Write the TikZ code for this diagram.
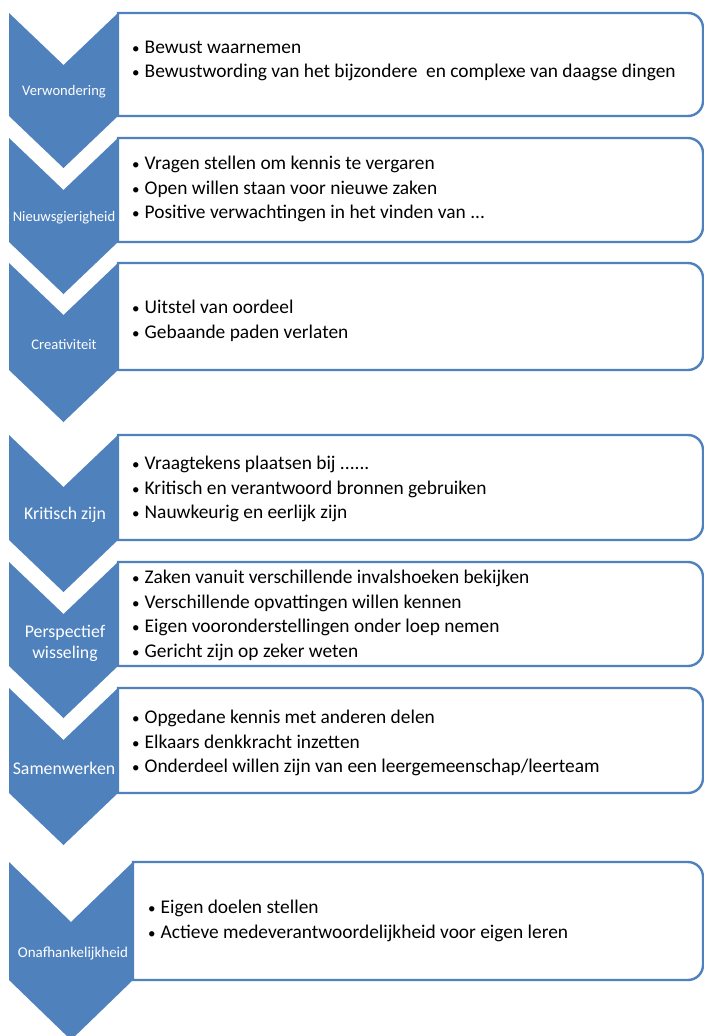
\documentclass[tikz,border=0pt]{standalone}
\usepackage{fontspec}
\setmainfont{Carlito}
\definecolor{chevblue}{HTML}{4F81BD}
\newcommand\itm{\makebox[12.5pt][l]{\fontsize{15}{15}\selectfont\textbullet}}

\begin{document}
\begin{tikzpicture}[x=1pt,y=1pt,
  chev/.style={fill=chevblue},
  itembox/.style={draw=chevblue,line width=2.4pt,fill=white},
  lab/.style={text=white,inner sep=0,align=center,font=\fontsize{17.8}{21}\selectfont},
  smalllab/.style={lab,font=\fontsize{14.6}{17}\selectfont},
  items/.style={anchor=west,inner sep=0,align=left,font=\fontsize{19.4}{24.5}\selectfont}]
\clip (0,0) rectangle (704,-1036);
\foreach \i/\t/\b/\r/\d in {1/13/116/118/52, 2/138/242/118/52, 3/263/370/118/52,
  4/435/540/118/52, 5/562/666/118/52, 6/688/793/118/52, 7/862/980/133/60} {
 \fill[chev] (9,-\t) -- ({(9+\r)/2},{-\t-\d}) -- (\r,-\t) -- (\r,-\b)
   -- ({(9+\r)/2},{-\b-\d}) -- (9,-\b) -- cycle;
 \draw[itembox] (\r,-\t) -- (688,-\t) arc[start angle=90,end angle=0,radius=15]
   -- (703,{-\b+15}) arc[start angle=0,end angle=-90,radius=15] -- (\r,-\b) -- cycle;
}
% chevron labels
\node[smalllab] (lab1) at (64,-92) {Verwondering};
\node[smalllab] (lab2) at (64,-218) {Nieuwsgierigheid};
\node[smalllab] (lab3) at (64,-345) {Creativiteit};
\node[lab] (lab4) at (65,-515) {Kritisch zijn};
\node[lab] (lab5) at (65,-643) {Perspectief\\wisseling};
\node[lab] (lab6) at (64,-768) {Samenwerken};
\node[smalllab,font=\fontsize{15}{18}\selectfont] (lab7) at (73,-953) {Onafhankelijkheid};
% box texts
\node[items] (txt1) at (132,-61) {\itm Bewust waarnemen\\
  \itm Bewustwording van het bijzondere~ en complexe van daagse dingen};
\node[items] (txt2) at (132,-189) {\itm Vragen stellen om kennis te vergaren\\
  \itm Open willen staan voor nieuwe zaken\\
  \itm Positive verwachtingen in het vinden van ...};
\node[items] (txt3) at (132,-321) {\itm Uitstel van oordeel\\
  \itm Gebaande paden verlaten};
\node[items] (txt4) at (132,-489) {\itm Vraagtekens plaatsen bij ......\\
  \itm Kritisch en verantwoord bronnen gebruiken\\
  \itm Nauwkeurig en eerlijk zijn};
\node[items] (txt5) at (132,-615.5) {\itm Zaken vanuit verschillende invalshoeken bekijken\\
  \itm Verschillende opvattingen willen kennen\\
  \itm Eigen vooronderstellingen onder loep nemen\\
  \itm Gericht zijn op zeker weten};
\node[items] (txt6) at (132,-743) {\itm Opgedane kennis met anderen delen\\
  \itm Elkaars denkkracht inzetten\\
  \itm Onderdeel willen zijn van een leergemeenschap/leerteam};
\node[items] (txt7) at (148,-921) {\itm Eigen doelen stellen\\
  \itm Actieve medeverantwoordelijkheid voor eigen leren};
\end{tikzpicture}
\end{document}
